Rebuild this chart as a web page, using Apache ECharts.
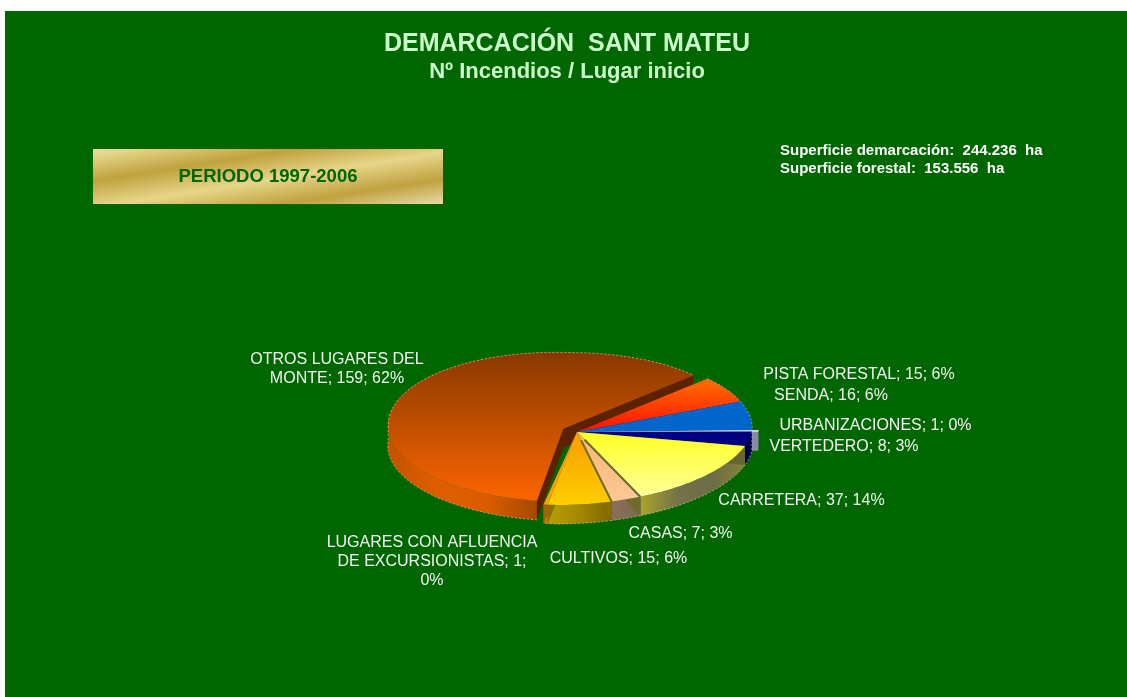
<!DOCTYPE html>
<html><head><meta charset="utf-8">
<style>html,body{margin:0;padding:0;background:#fff}#c{width:1127px;height:697px}</style>
<script src="https://cdn.jsdelivr.net/npm/echarts@6/dist/echarts.min.js"></script>
</head><body><div id="c"></div>
<script>
const categories = ['CARRETERA','CASAS','CULTIVOS','LUGARES CON AFLUENCIA DE EXCURSIONISTAS','OTROS LUGARES DEL MONTE','PISTA FORESTAL','SENDA','URBANIZACIONES','VERTEDERO'];
const values = [37,7,15,1,159,15,16,1,8];
const percents = [14,3,6,0,62,6,6,0,3];
const firstSliceAngle = 101;
// rendering config, by category
const explodeBy = [0,0,0,0,0.088,0,0,0.035,0];
const paintOrder = [5,6,8,7,0,1,2,3,4];
const frontShear = [-20,-20,-20,-20,-13,-20,-20,-20,-20];
const labelLines = [
  ['CARRETERA; 37; 14%'],['CASAS; 7; 3%'],['CULTIVOS; 15; 6%'],
  ['LUGARES CON AFLUENCIA','DE EXCURSIONISTAS; 1;','0%'],
  ['OTROS LUGARES DEL','MONTE; 159; 62%'],
  ['PISTA FORESTAL; 15; 6%'],['SENDA; 16; 6%'],['URBANIZACIONES; 1; 0%'],['VERTEDERO; 8; 3%']];
const labelAt = [[801.5,501],[680.5,534],[618.5,559],[432,543],[337,360],[859,375],[831,396],[875.5,426],[844,447]];

const G = echarts.graphic.LinearGradient;
const vert = (y0,y1,a,b)=>new G(0,y0,0,y1,[{offset:0,color:a},{offset:1,color:b}],true);
const horiz = (x0,x1,stops)=>new G(x0,0,x1,0,stops.map((c,i)=>({offset:i/(stops.length-1),color:c})),true);
const looks = [
 {top:vert(432,497,'#ffff22','#ffff9c'), side:horiz(643,745,['#a8a030','#75734a','#6c6c46','#85833c']), wall:'#666633'},
 {top:vert(440,497,'#f9b870','#fbc795'), side:horiz(612,645,['#8a7058','#7a6654']), wall:'#6e6a30', edge:'#666633'},
 {top:vert(435,503,'#f7a000','#ffcc00'), side:horiz(548,612,['#b89e00','#a38800','#7d6600']), wall:'#8a6f00', edge:'#6e6a20'},
 {top:'#ff9c00', side:'#c87a00', wall:'#a86000'},
 {top:vert(353,500,'#8a3800','#fb6500'), side:horiz(388,540,['#c45300','#e05e00','#d85c00','#a04800']), wall:'#5c2200'},
 {top:vert(380,432,'#ff6c00','#ff1000'), side:'#a03000', wall:'#802000'},
 {top:'#0066cc', side:'#003c80', wall:'#003c80'},
 {top:'#d8d8f0', side:horiz(752,759,['#8a8aa8','#a8a8bc']), wall:'#8a8aa8'},
 {top:'#000080', side:'#000040', wall:'#000040'}
];
const total = values.reduce((s,v)=>s+v,0);
const ox = 577, oy = 432, depth = 19;
function project(deg,shear){
  const r = deg*Math.PI/180, u = Math.sin(r), v = -Math.cos(r);
  const b = v>0?shear:-8, c = u<0?7:0, d = v<0?76:73;
  return {x:175*u+b*v, y:c*u+d*v, front:v>0};
}
const startOf = [];
values.reduce((acc,v,i)=>{startOf[i]=acc;return acc+v/total*360;},firstSliceAngle);

function renderSlice(params){
  const i = params.dataIndex, a0 = startOf[i], a1 = a0+values[i]/total*360;
  const look = looks[i], z = paintOrder[i]*10, sh = frontShear[i];
  const m = project((a0+a1)/2,sh), e = explodeBy[i];
  const cx = ox+m.x*e, cy = oy+m.y*e;
  const arc = [], rim = [];
  const n = Math.max(2,Math.ceil(a1-a0));
  for(let k=0;k<=n;k++){
    const p=project(a0+(a1-a0)*k/n,sh);
    arc.push([cx+p.x,cy+p.y]);
    rim.push([cx+p.x,cy+p.y+(p.front?depth:0)]);
  }
  const down = p=>[p[0],p[1]+depth];
  const kids = [];
  kids.push({type:'polygon',z2:z,shape:{points:arc.concat(arc.map(down).reverse())},style:{fill:look.side}});
  [arc[0],arc[arc.length-1]].forEach(p=>{
    kids.push({type:'polygon',z2:z+1,shape:{points:[[cx,cy],p,down(p),[cx,cy+depth]]},style:{fill:look.wall}});
  });
  kids.push({type:'polygon',z2:z+2,shape:{points:[[cx,cy]].concat(arc)},style:{fill:look.top}});
  if(look.edge){
    kids.push({type:'polyline',z2:z+3,shape:{points:[[cx+(arc[0][0]-cx)*.12,cy+(arc[0][1]-cy)*.12],arc[0]]},style:{fill:'none',stroke:look.edge,lineWidth:2}});
  }
  kids.push({type:'polyline',z2:z+4,shape:{points:rim},style:{fill:'none',stroke:'rgba(240,225,195,0.55)',lineWidth:1,lineDash:[2,2]}});
  return {type:'group',children:kids};
}

const txt = (x,y,s,font,fill,align)=>({type:'text',x,y,z:20,style:{text:s,font,fill,textAlign:align||'center',textVerticalAlign:'middle'}});
const labelFont = '16px "Liberation Sans"';
const labelEls = [];
labelLines.forEach((lines,i)=>lines.forEach((s,j)=>labelEls.push(txt(labelAt[i][0],labelAt[i][1]+j*19,s,labelFont,'#f4f4f4'))));

const chart = echarts.init(document.getElementById('c'),null,{renderer:'canvas'});
chart.setOption({
  animation:false,
  backgroundColor:'#ffffff',
  series:[{type:'custom',coordinateSystem:'none',z:5,data:values.map((v,i)=>({name:categories[i],value:v})),renderItem:renderSlice,silent:true}],
  graphic:[
    {type:'rect',z:-10,shape:{x:5,y:11,width:1122,height:686},style:{fill:'#006600'}},
    {type:'rect',z:1,shape:{x:93,y:149,width:350,height:55},style:{fill:new G(93,149,110.2,257.4,[
      {offset:0,color:'#e6dba8'},{offset:.06,color:'#e6d688'},{offset:.29,color:'#c0a13e'},
      {offset:.53,color:'#e6d688'},{offset:.77,color:'#c0a13e'},{offset:1,color:'#e6dcaa'}],true)}},
    txt(268,177,'PERIODO 1997-2006','bold 18.5px "Liberation Sans"','#006600'),
    txt(567,44,'DEMARCACIÓN  SANT MATEU','bold 25px "Liberation Sans"','#ccffcc'),
    txt(567,72,'Nº Incendios / Lugar inicio','bold 22px "Liberation Sans"','#ccffcc'),
    txt(780,151,'Superficie demarcación:  244.236  ha','bold 15px "Liberation Sans"','#ffffff','left'),
    txt(780,169,'Superficie forestal:  153.556  ha','bold 15px "Liberation Sans"','#ffffff','left')
  ].concat(labelEls)
});
</script></body></html>
